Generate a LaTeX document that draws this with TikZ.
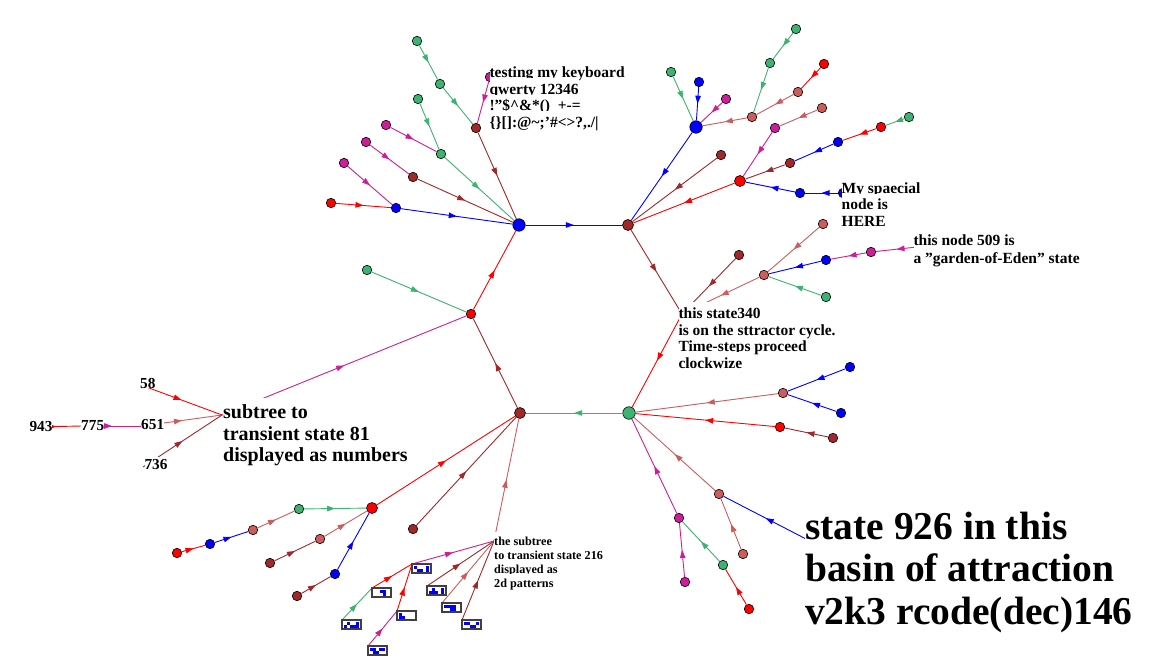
\documentclass[tikz,border=0pt]{standalone}
\usepackage{fontspec}
\setmainfont{Liberation Serif}[Ligatures=ResetAll]
\usetikzlibrary{arrows.meta,decorations.markings}
\definecolor{cgreen}{RGB}{60,179,113}
\definecolor{cblue}{RGB}{0,0,255}
\definecolor{cred}{RGB}{255,0,0}
\definecolor{cbrown}{RGB}{160,40,40}
\definecolor{csalmon}{RGB}{205,92,92}
\definecolor{cmagenta}{RGB}{204,30,150}
% a 5x2 state pattern hung at a named point
\newcommand\patt[2]{%
  \begin{scope}[shift={(#1)}]
    \draw[patbox] (0,0) rectangle (19,9);
    \foreach \c/\r in {#2} \fill[cblue] (2+3*\c,1.5+3*\r) rectangle ++(3,3);
  \end{scope}}
\begin{document}
\begin{tikzpicture}[x=1pt,y=-1pt,
    leaf/.style={circle,draw=black,line width=0.6pt,inner sep=0pt,minimum size=9.5pt,fill=#1},
    hubm/.style={leaf=#1,minimum size=11pt},
    hubb/.style={leaf=#1,minimum size=12.5pt},
    eg/.style={color=#1,draw,line width=0.9pt,postaction={decorate},
      decoration={markings,mark=at position 0.5 with {\arrow{Triangle[length=8pt,width=5.5pt]}}}},
    patbox/.style={draw=black!75,line width=1.2pt,fill=white},
    lbl/.style={anchor=base west,inner sep=0pt,fill=white,text height=16pt,text depth=4pt,
      font=\fontsize{15.5}{17}\selectfont\bfseries},
    lbls/.style={lbl,text height=13.5pt,text depth=3.5pt,font=\fontsize{12.2}{14}\selectfont\bfseries},
    lblb/.style={lbl,text height=20.5pt,text depth=5pt,font=\fontsize{20}{22}\selectfont\bfseries},
    lblh/.style={lbl,text height=41.5pt,text depth=10pt,font=\fontsize{39.5}{42}\selectfont\bfseries},
    num/.style={lbl,text height=12pt,text depth=0pt,font=\fontsize{15.3}{17}\selectfont\bfseries}]
  \useasboundingbox (0,0) rectangle (1175,668);
  % attractor cycle
  \draw
    (519,225) node[hubb=cblue] (b0) {}
    (628,225) node[hubm=cbrown] (c1) {}
    (629,413) node[hubb=cgreen] (g0) {}
    (520,413) node[hubm=cbrown] (br0) {}
    (471,314) node[leaf=cred] (r0) {};
  % states hidden under their labels
  \path
    (682,314) coordinate (n340)
    (222,415) coordinate (n81)
    (494,541) coordinate (n216)
    (808,540) coordinate (n926)
    (917,247) coordinate (n509)
    (141,385) coordinate (n58)
    (142,426) coordinate (n651)
    (143,467) coordinate (n736)
    (82,426) coordinate (n775)
    (31,427) coordinate (n943)
    (412,564) coordinate (p1)
    (372,588) coordinate (p2)
    (342,620) coordinate (p3)
    (397,611) coordinate (p4)
    (368,646) coordinate (p5)
    (427,586) coordinate (p6)
    (442,603) coordinate (p7)
    (462,620) coordinate (p8);
  % top left
  \draw
    (417,41) node[leaf=cgreen] (tl1) {}
    (440,84) node[leaf=cgreen] (tl2) {}
    (476,128) node[leaf=cbrown] (tl3) {}
    (490,77) node[leaf=cmagenta] (kb) {}
    (418,99) node[leaf=cgreen] (tl4) {}
    (441,154) node[leaf=cgreen] (tl5) {}
    (386,125) node[leaf=cmagenta] (tl6) {}
    (366,142) node[leaf=cmagenta] (tl7) {}
    (413,177) node[leaf=cbrown] (tl8) {}
    (344,163) node[leaf=cmagenta] (tl9) {}
    (396,208) node[leaf=cblue] (tl10) {}
    (331,203) node[leaf=cred] (tl11) {}
    (367,270) node[leaf=cgreen] (l1) {};
  % top right
  \draw
    (696,127) node[hubb=cblue] (tr1) {}
    (671,72) node[leaf=cgreen] (tr2) {}
    (699,82) node[leaf=cblue] (tr3) {}
    (726,99) node[leaf=cmagenta] (tr4) {}
    (752,117) node[leaf=csalmon] (tr5) {}
    (770,63) node[leaf=cgreen] (tr6) {}
    (796,29) node[leaf=cgreen] (tr7) {}
    (798,92) node[leaf=csalmon] (tr8) {}
    (824,64) node[leaf=cred] (tr9) {}
    (721,155) node[leaf=cbrown] (tr10) {}
    (740,181) node[hubm=cred] (tr11) {}
    (775,128) node[leaf=cmagenta] (tr12) {}
    (822,108) node[leaf=csalmon] (tr13) {}
    (790,163) node[leaf=cbrown] (tr14) {}
    (838,142) node[leaf=cblue] (tr15) {}
    (881,127) node[leaf=cred] (tr16) {}
    (909,117) node[leaf=cgreen] (tr17) {}
    (800,193) node[leaf=cblue] (tr18) {}
    (843,193) node[leaf=cblue] (sp) {};
  % right middle
  \draw
    (764,275) node[leaf=csalmon] (rm1) {}
    (739,255) node[leaf=cbrown] (rm2) {}
    (823,224) node[leaf=csalmon] (rm3) {}
    (826,260) node[leaf=cblue] (rm4) {}
    (871,252) node[leaf=cmagenta] (rm5) {}
    (826,297) node[leaf=cgreen] (rm6) {};
  % bottom right
  \draw
    (783,393) node[leaf=csalmon] (brt1) {}
    (850,367) node[leaf=cblue] (brt2) {}
    (841,413) node[leaf=cblue] (brt3) {}
    (780,427) node[leaf=cred] (brt4) {}
    (833,438) node[leaf=cbrown] (brt5) {}
    (719,494) node[leaf=csalmon] (brt6) {}
    (743,554) node[leaf=csalmon] (brt7) {}
    (679,518) node[leaf=cmagenta] (brt8) {}
    (685,582) node[leaf=cmagenta] (brt9) {}
    (723,565) node[leaf=cgreen] (brt10) {}
    (749,609) node[leaf=cred] (brt11) {};
  % bottom left
  \draw
    (372,508) node[hubm=cred] (bl1) {}
    (299,509) node[leaf=cgreen] (bl2) {}
    (253,530) node[leaf=csalmon] (bl3) {}
    (210,544) node[leaf=cblue] (bl4) {}
    (177,553) node[leaf=cred] (bl5) {}
    (320,539) node[leaf=csalmon] (bl6) {}
    (270,563) node[leaf=cbrown] (bl7) {}
    (335,574) node[leaf=cblue] (bl8) {}
    (297,596) node[leaf=cbrown] (bl9) {}
    (413,529) node[leaf=cbrown] (bl10) {};
  \begin{scope}
    \draw[eg=cblue] (b0) to (c1);
    \draw[eg=cbrown] (c1) to (n340);
    \draw[eg=cred] (n340) to (g0);
    \draw[eg=cgreen] (g0) to (br0);
    \draw[eg=cbrown] (br0) to (r0);
    \draw[eg=cred] (r0) to (b0);
    \draw[eg=cgreen] (tl1) to (tl2);
    \draw[eg=cgreen] (tl2) to (tl3);
    \draw[eg=cmagenta] (kb) to (tl3);
    \draw[eg=cbrown] (tl3) to (b0);
    \draw[eg=cgreen] (tl4) to (tl5);
    \draw[eg=cgreen] (tl5) to (b0);
    \draw[eg=cmagenta] (tl6) to (tl5);
    \draw[eg=cmagenta] (tl7) to (tl8);
    \draw[eg=cbrown] (tl8) to (b0);
    \draw[eg=cmagenta] (tl9) to (tl10);
    \draw[eg=cred] (tl11) to (tl10);
    \draw[eg=cblue] (tl10) to (b0);
    \draw[eg=cgreen] (l1) to (r0);
    \draw[eg=cmagenta] (n81) to (r0);
    \draw[eg=cred] (n58) to (n81);
    \draw[eg=csalmon] (n651) to (n81);
    \draw[eg=cbrown] (n736) to (n81);
    \draw[eg=cmagenta] (n775) to (n651);
    \draw[eg=cred] (n943) to (n775);
    \draw[eg=cblue] (tr1) to (c1);
    \draw[eg=cgreen] (tr2) to (tr1);
    \draw[eg=cblue] (tr3) to (tr1);
    \draw[eg=cmagenta] (tr4) to (tr1);
    \draw[eg=csalmon] (tr5) to (tr1);
    \draw[eg=cgreen] (tr6) to (tr5);
    \draw[eg=cgreen] (tr7) to (tr6);
    \draw[eg=csalmon] (tr8) to (tr5);
    \draw[eg=cred] (tr9) to (tr8);
    \draw[eg=cbrown] (tr10) to (c1);
    \draw[eg=cred] (tr11) to (c1);
    \draw[eg=cmagenta] (tr12) to (tr11);
    \draw[eg=csalmon] (tr13) to (tr12);
    \draw[eg=cbrown] (tr14) to (tr11);
    \draw[eg=cblue] (tr15) to (tr14);
    \draw[eg=cred] (tr16) to (tr15);
    \draw[eg=cgreen] (tr17) to (tr16);
    \draw[eg=cblue] (tr18) to (tr11);
    \draw[eg=cblue] (sp) to (tr18);
    \draw[eg=csalmon] (rm1) to (n340);
    \draw[eg=cbrown] (rm2) to (n340);
    \draw[eg=csalmon] (rm3) to (rm1);
    \draw[eg=cblue] (rm4) to (rm1);
    \draw[eg=cmagenta] (rm5) to (rm4);
    \draw[eg=cmagenta] (n509) to (rm5);
    \draw[eg=cgreen] (rm6) to (rm1);
    \draw[eg=csalmon] (brt1) to (g0);
    \draw[eg=cblue] (brt2) to (brt1);
    \draw[eg=cblue] (brt3) to (brt1);
    \draw[eg=cred] (brt4) to (g0);
    \draw[eg=cbrown] (brt5) to (brt4);
    \draw[eg=csalmon] (brt6) to (g0);
    \draw[eg=cblue] (n926) to (brt6);
    \draw[eg=csalmon] (brt7) to (brt6);
    \draw[eg=cmagenta] (brt8) to (g0);
    \draw[eg=cmagenta] (brt9) to (brt8);
    \draw[eg=cgreen] (brt10) to (brt8);
    \draw[eg=cred] (brt11) to (brt10);
    \draw[eg=cred] (bl1) to (br0);
    \draw[eg=cgreen] (bl2) to (bl1);
    \draw[eg=csalmon] (bl3) to (bl2);
    \draw[eg=cblue] (bl4) to (bl3);
    \draw[eg=cred] (bl5) to (bl4);
    \draw[eg=csalmon] (bl6) to (bl1);
    \draw[eg=cbrown] (bl7) to (bl6);
    \draw[eg=cblue] (bl8) to (bl1);
    \draw[eg=cbrown] (bl9) to (bl8);
    \draw[eg=cbrown] (bl10) to (br0);
    \draw[eg=csalmon] (n216) to (br0);
    \draw[eg=cmagenta] (p1) to (n216);
    \draw[eg=cred] (p2) to (p1);
    \draw[eg=cgreen] (p3) to (p2);
    \draw[eg=cred] (p4) to (p1);
    \draw[eg=cmagenta] (p5) to (p4);
    \draw[eg=cbrown] (p6) to (n216);
    \draw[eg=csalmon] (p7) to (n216);
    \draw[eg=cbrown] (p8) to (n216);
  \end{scope}
  % 2d patterns of the subtree to 216
  \patt{p1}{0/0,1/1,2/1,4/0,4/1}
  \patt{p2}{2/0,3/0,3/1}
  \patt{p3}{1/0,0/1,2/1,3/1,4/1,4/0}
  \patt{p4}{0/0,0/1,1/1}
  \patt{p5}{0/0,1/0,3/0,4/0,1/1,2/1}
  \patt{p6}{1/0,0/1,1/1,2/1,4/0,4/1}
  \patt{p7}{0/0,1/0,2/0,3/0,2/1,3/1}
  \patt{p8}{0/0,1/0,4/0,2/1,3/1}
  % number labels
  \node[num] (t943) at (29.3,431.7) {943};
  \node[num] (t775) at (81,430.7) {775};
  \node[num] (t651) at (141,429) {651};
  \node[num] (t58) at (140,388.3) {58};
  \node[num] (t736) at (144.3,469.3) {736};
  % text labels
  \node[lbl] (kbA) at (489.3,78) {testing my keyboard};
  \node[lbl] (kbB) at (489.3,94.5) {qwerty 12346};
  \node[lbl] (kbC) at (489.3,111) {!"\$\textasciicircum\&*()\_+-=};
  \node[lbl] (kbD) at (489.3,127.5) {\{\}[]:@\textasciitilde;’\#<>?,./|};
  \node[lbl] (spA) at (841.5,193.3) {My spaecial};
  \node[lbl] (spB) at (841.5,210) {node is};
  \node[lbl] (spC) at (841.5,226.7) {HERE};
  \node[lbl] (geA) at (913.3,246) {this node 509 is};
  \node[lbl] (geB) at (913.3,263.3) {a "garden-of-Eden" state};
  \node[lbl] (cyA) at (678.3,318.3) {this state340};
  \node[lbl] (cyB) at (678.3,335) {is on the sttractor cycle.};
  \node[lbl] (cyC) at (678.3,351.7) {Time-steps proceed};
  \node[lbl] (cyD) at (678.3,368.4) {clockwize};
  \node[lblb] (stA) at (223,418.3) {subtree to};
  \node[lblb] (stB) at (223,440) {transient state 81};
  \node[lblb] (stC) at (223,461.7) {displayed as numbers};
  \node[lbls] (ptA) at (494,545) {the subtree};
  \node[lbls] (ptB) at (494,559.3) {to transient state 216};
  \node[lbls] (ptC) at (494,573.6) {displayed as};
  \node[lbls] (ptD) at (494,587.9) {2d patterns};
  \node[lblh] (baA) at (805,539) {state 926 in this};
  \node[lblh] (baB) at (805,581.5) {basin of attraction};
  \node[lblh] (baC) at (805,624) {v2k3 rcode(dec)146};
\end{tikzpicture}
\end{document}
